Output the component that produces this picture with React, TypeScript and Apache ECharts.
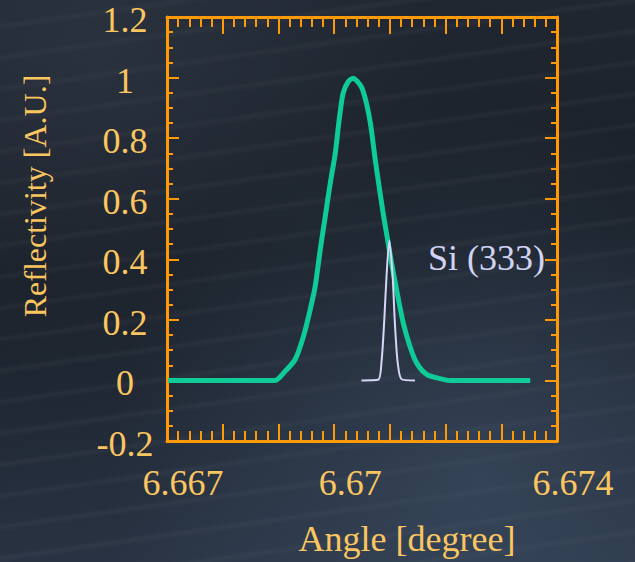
import React, { useEffect, useRef } from "react";
import * as echarts from "echarts";

// ---- data ----
const xLabelValues = [6.667, 6.67, 6.674];
const xLabelTexts = ["6.667", "6.67", "6.674"];

const crystalAngle = [
  6.66702, 6.66894, 6.66912, 6.6693, 6.66945, 6.66957, 6.66966, 6.66975, 6.66984,
  6.66993, 6.67002, 6.67009, 6.67016, 6.67025, 6.67034, 6.67049, 6.67058, 6.67066,
  6.67073, 6.67079, 6.67087, 6.67095, 6.67103, 6.67112, 6.67124, 6.67136, 6.67148,
  6.67166, 6.6719, 6.67208, 6.67352,
];
const crystalRefl = [
  0, 0, 0.03, 0.069, 0.146, 0.234, 0.311, 0.431, 0.541, 0.651, 0.75, 0.86, 0.948,
  0.986, 0.998, 0.969, 0.915, 0.838, 0.739, 0.662, 0.563, 0.475, 0.388, 0.3, 0.19,
  0.113, 0.058, 0.02, 0.006, 0, 0,
];

const siAngle = [
  6.67049, 6.67079, 6.67085, 6.6709, 6.67094, 6.67099, 6.67105, 6.67109, 6.67114,
  6.67121, 6.67145,
];
const siRefl = [0, 0.002, 0.06, 0.2, 0.344, 0.462, 0.344, 0.19, 0.06, 0.004, 0];

const siLabel = "Si (333)";
const xName = "Angle [degree]";
const yName = "Reflectivity [A.U.]";

export default function App() {
  const ref = useRef<HTMLDivElement>(null);
  useEffect(() => {
    if (!ref.current) return;
    const chart = echarts.init(ref.current, null, { renderer: "svg" });
    const font = "'Liberation Serif', 'Times New Roman', serif";
    const axisColor = "#ff9a06";
    const labelColor = "#fbc660";
    const xFormatter = (v: number) => {
      const k = Math.round(v * 1000);
      for (let i = 0; i < xLabelValues.length; i++) {
        if (Math.round(xLabelValues[i] * 1000) === k) return xLabelTexts[i];
      }
      return "";
    };
    const commonX = {
      type: "value" as const,
      min: 6.667,
      max: 6.674,
      interval: 0.001,
      splitLine: { show: false },
      axisLine: { show: true, onZero: false, lineStyle: { color: axisColor, width: 3 } },
      axisTick: { show: true, inside: true, length: 17, lineStyle: { color: axisColor, width: 2 } },
      minorTick: { show: true, splitNumber: 5, length: 10, lineStyle: { color: axisColor, width: 2 } },
    };
    const commonY = {
      type: "value" as const,
      min: -0.2,
      max: 1.2,
      interval: 0.2,
      splitLine: { show: false },
      axisLine: { show: true, onZero: false, lineStyle: { color: axisColor, width: 3 } },
      axisTick: { show: true, inside: true, length: 12, lineStyle: { color: axisColor, width: 2 } },
      minorTick: { show: true, splitNumber: 4, length: 6, lineStyle: { color: axisColor, width: 2 } },
    };
    chart.setOption({
      animation: false,
      backgroundColor: "transparent",
      grid: { left: 167, right: 78, top: 17, bottom: 120, containLabel: false },
      xAxis: [
        {
          ...commonX,
          position: "bottom",
          name: xName,
          nameLocation: "middle",
          nameGap: 80,
          nameTextStyle: {
            color: labelColor,
            fontFamily: font,
            fontSize: 36,
            verticalAlign: "top",
            padding: [0, 0, 0, 90],
          },
          axisLabel: {
            show: true,
            showMinLabel: true,
            showMaxLabel: true,
            formatter: xFormatter,
            color: labelColor,
            fontFamily: font,
            fontSize: 36,
            margin: 24,
            align: "center",
            padding: [0, 0, 0, 32],
          },
        },
        { ...commonX, position: "top", axisLabel: { show: false } },
      ],
      yAxis: [
        {
          ...commonY,
          position: "left",
          name: yName,
          nameLocation: "middle",
          nameGap: 116,
          nameRotate: 90,
          nameTextStyle: {
            color: labelColor,
            fontFamily: font,
            fontSize: 32,
            padding: [0, 0, 0, 66],
          },
          axisLabel: {
            show: true,
            color: labelColor,
            fontFamily: font,
            fontSize: 36,
            lineHeight: 6,
            verticalAlign: "top",
            margin: 42,
            align: "center",
          },
        },
        { ...commonY, position: "right", axisLabel: { show: false } },
      ],
      series: [
        {
          type: "line",
          data: crystalAngle.map((a, i) => [a, crystalRefl[i]]),
          showSymbol: false,
          smooth: 0.25,
          lineStyle: { color: "#0fcb98", width: 5 },
          z: 3,
        },
        {
          type: "line",
          data: siAngle.map((a, i) => [a, siRefl[i]]),
          showSymbol: false,
          smooth: 0.25,
          lineStyle: { color: "#d6d6f6", width: 2 },
          z: 4,
        },
      ],
      graphic: [
        {
          type: "text",
          x: 428,
          y: 258,
          style: {
            text: siLabel,
            fill: "#d2d2f2",
            font: `36px ${font}`,
            align: "left",
            verticalAlign: "middle",
          },
        },
      ],
    });
    return () => chart.dispose();
  }, []);
  return (
    <div
      ref={ref}
      style={{
        position: "fixed",
        left: 0,
        top: 0,
        width: 635,
        height: 562,
        background:
          "radial-gradient(ellipse at 75% 85%, rgba(70,90,115,0.45) 0%, rgba(70,90,115,0) 55%)," +
          "radial-gradient(ellipse at 15% 10%, rgba(60,70,85,0.35) 0%, rgba(60,70,85,0) 45%)," +
          "repeating-linear-gradient(172deg, rgba(255,255,255,0.0) 0px, rgba(255,255,255,0.0) 22px, rgba(255,255,255,0.035) 26px, rgba(255,255,255,0.0) 31px)," +
          "linear-gradient(175deg, #212833 0%, #1a2029 45%, #232c39 75%, #2b3647 100%)",
      }}
    />
  );
}
